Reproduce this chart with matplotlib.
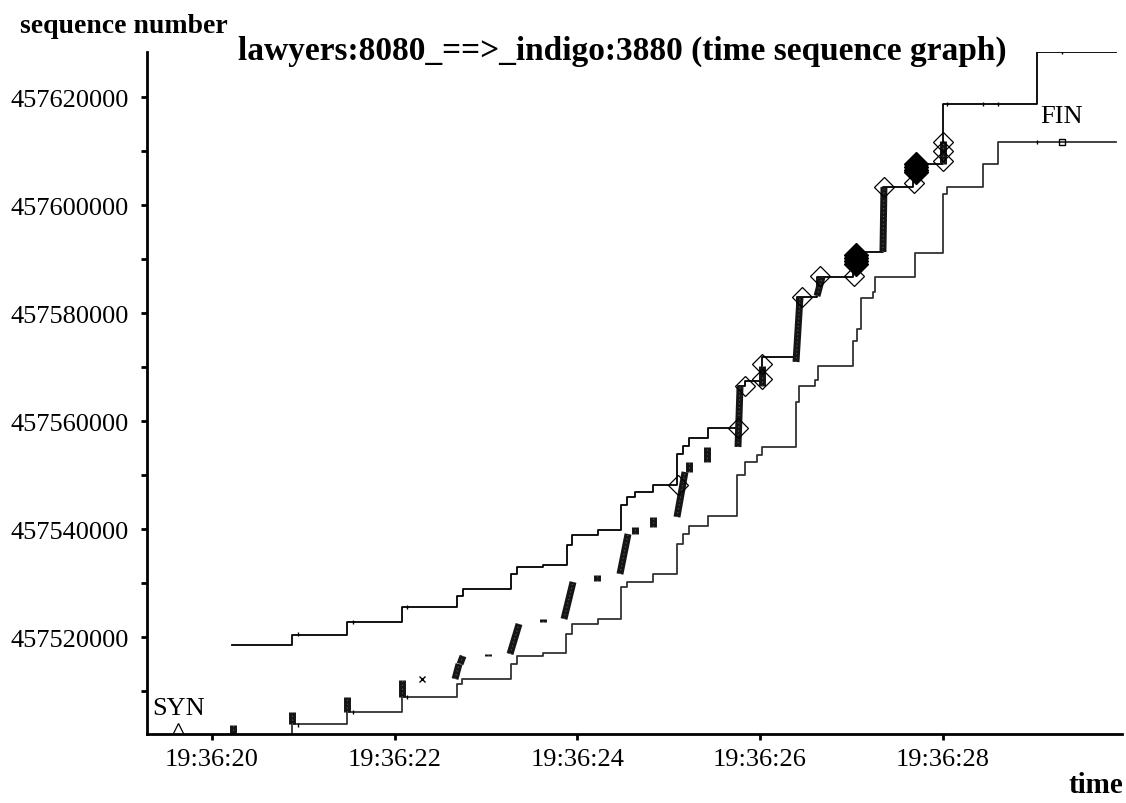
import numpy as np
import matplotlib
matplotlib.use("Agg")
import matplotlib.pyplot as plt
from matplotlib.ticker import FuncFormatter, MultipleLocator

plt.rcParams['font.family'] = ['Liberation Serif', 'DejaVu Serif']

# time in seconds after 19:36:00, sequence numbers
# window (upper) line: step-post points
win_t = [20.219, 20.876, 21.478, 22.080, 22.682, 22.748, 23.273, 23.339, 23.623,
         23.886, 23.941, 24.225, 24.477, 24.543, 24.631, 24.828, 25.090, 25.156,
         25.222, 25.430, 25.758, 25.835, 26.021, 26.404, 26.623, 27.017, 27.345,
         27.674, 28.002, 29.031, 29.896]
win_seq = [457518518, 457520370, 457522778, 457525556, 457527593, 457528890,
           457531668, 457532964, 457533334, 457537038, 457538890, 457539816,
           457544446, 457545928, 457546854, 457548150, 457553892, 457555373,
           457556855, 457558707, 457566485, 457567411, 457571856, 457582968,
           457586672, 457591302, 457603340, 457607600, 457618712, 457628342,
           457628342]

# ack (lower) line: step-post points
ack_t = [20.876, 20.876, 21.478, 22.080, 22.682, 22.737, 23.273, 23.339, 23.623,
         23.875, 23.941, 24.225, 24.477, 24.543, 24.828, 25.090, 25.156, 25.222,
         25.430, 25.747, 25.835, 25.966, 26.021, 26.393, 26.426, 26.601, 26.634,
         27.017, 27.061, 27.105, 27.236, 27.258, 27.696, 28.002, 28.046, 28.440,
         28.604, 29.896]
ack_seq = [457502036, 457503888, 457506110, 457508888, 457511296, 457512222,
           457515000, 457516481, 457517037, 457520556, 457522408, 457523334,
           457529260, 457530186, 457531668, 457537224, 457539076, 457540557,
           457542409, 457550002, 457552410, 457553706, 457555188, 457563522,
           457566485, 457567596, 457570189, 457574819, 457577042, 457582783,
           457583894, 457586672, 457591117, 457602044, 457603340, 457607600,
           457611674, 457611674]

# data segments sent: start time, start seq, end time, end seq
seg_t0 = [20.230, 20.876, 21.478, 22.080, 22.660, 22.715, 23.021, 23.262, 23.623,
          23.853, 24.215, 24.466, 24.631, 24.828, 25.090, 25.222, 25.419, 25.758,
          26.021, 26.393, 26.623, 27.345, 28.002]
seg_s0 = [457502036, 457503888, 457506110, 457508888, 457512222, 457515000,
          457516450, 457516852, 457522700, 457523334, 457530371, 457531668,
          457539076, 457540372, 457542224, 457550558, 457552410, 457555188,
          457566485, 457570930, 457583153, 457591302, 457607600]
seg_t1 = [20.230, 20.876, 21.478, 22.080, 22.704, 22.748, 23.021, 23.361, 23.623,
          23.952, 24.215, 24.554, 24.631, 24.828, 25.178, 25.222, 25.419, 25.780,
          26.021, 26.437, 26.678, 27.356, 28.002]
seg_s1 = [457503702, 457506110, 457508888, 457512036, 457515000, 457516481,
          457516900, 457522408, 457523250, 457530186, 457531482, 457539076,
          457540372, 457542224, 457550558, 457552410, 457555188, 457566300,
          457570189, 457582968, 457586672, 457603340, 457611859]

# hollow diamonds (duplicate acks / sacks)
dia_t = [25.101, 25.758, 25.835, 26.021, 26.021, 26.459, 26.656, 27.028, 27.356,
         27.685, 28.002, 28.002, 28.002]
dia_seq = [457548150, 457558707, 457566485, 457567782, 457570560, 457582968,
           457586857, 457586857, 457603340, 457604081, 457611674, 457610007,
           457608155]

# stacked filled diamonds (retransmissions)
blob_t = [27.050, 27.050, 27.050, 27.050, 27.707, 27.707, 27.707, 27.707]
blob_seq = [457589170, 457589725, 457590280, 457590837,
            457606027, 457606520, 457607015, 457607508]

# small ticks along the lines
tick_t = [20.941, 21.544, 22.135, 20.941, 21.544, 22.135, 28.046, 28.440, 28.604,
          29.305, 29.031]
tick_seq = [457520556, 457522778, 457525556, 457503702, 457506110, 457508888,
            457618712, 457618712, 457618712, 457628342, 457611674]

syn_t, syn_seq = 19.628, 457502700
fin_t, fin_seq = 29.305, 457611674
x_t, x_seq = 22.299, 457512222

fig = plt.figure(figsize=(11.26, 8.04), dpi=100)
ax = fig.add_axes([147 / 1126, 1 - 735 / 804, 975 / 1126, 682 / 804])

ax.step(win_t, win_seq, where='post', color='black', lw=1.3)
ax.step(ack_t, ack_seq, where='post', color='#333333', lw=1.3)

# packet clusters: dark bar with a light speckle on top
for t0, s0, t1, s1 in zip(seg_t0, seg_s0, seg_t1, seg_s1):
    ax.plot([t0, t1], [s0, s1], color='#151515', lw=5.0, solid_capstyle='butt')
    ax.plot([t0, t1], [s0, s1], color='white', lw=0.8, alpha=0.3,
            linestyle=(0, (1, 2.5)))

ax.plot(tick_t, tick_seq, linestyle='none', marker='|', color='black',
        markersize=3, markeredgewidth=1)
ax.plot(dia_t, dia_seq, linestyle='none', marker='D', markersize=10,
        markerfacecolor='none', markeredgecolor='black', markeredgewidth=0.9)
ax.plot(blob_t, blob_seq, linestyle='none', marker='D', markersize=12,
        markerfacecolor='black', markeredgecolor='black')
ax.plot([syn_t], [syn_seq], linestyle='none', marker='^', markersize=10,
        markerfacecolor='none', markeredgecolor='black', markeredgewidth=0.9)
ax.plot([fin_t], [fin_seq], linestyle='none', marker='s', markersize=4,
        markerfacecolor='none', markeredgecolor='black', markeredgewidth=1)
ax.plot([x_t], [x_seq], linestyle='none', marker='x', markersize=4,
        color='black', markeredgewidth=1)

ax.text(19.343, 457505740, 'SYN', fontsize=19)
ax.text(29.064, 457615378, 'FIN', fontsize=19)

ax.set_xlim(19.288, 29.962)
ax.set_ylim(457502036, 457628342)

ax.xaxis.set_major_locator(MultipleLocator(2))
ax.xaxis.set_major_formatter(FuncFormatter(lambda v, p: "19:36:%02d" % int(round(v))))
ax.yaxis.set_major_locator(MultipleLocator(20000))
ax.yaxis.set_minor_locator(MultipleLocator(10000))
ax.yaxis.set_major_formatter(FuncFormatter(lambda v, p: "%d" % int(round(v))))

for side in ['top', 'right']:
    ax.spines[side].set_visible(False)
for side in ['left', 'bottom']:
    ax.spines[side].set_linewidth(2.0)

ax.tick_params(axis='both', which='both', direction='out', width=2, length=4,
               labelsize=19)
ax.tick_params(axis='x', pad=6)
ax.tick_params(axis='y', pad=9)

fig.text(20 / 1126, 1 - 33 / 804, 'sequence number', fontsize=20, fontweight='bold')
fig.text(238 / 1126, 1 - 60 / 804, 'lawyers:8080_==>_indigo:3880 (time sequence graph)',
         fontsize=24, fontweight='bold')
fig.text(1123 / 1126, 1 - 793 / 804, 'time', fontsize=21, fontweight='bold', ha='right')

fig.savefig('out.png', dpi=100)
